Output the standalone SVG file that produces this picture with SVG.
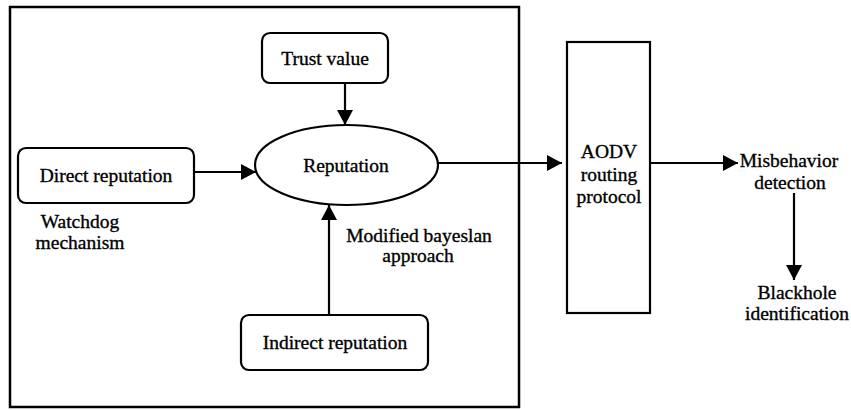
<svg xmlns="http://www.w3.org/2000/svg" width="851" height="410" viewBox="0 0 851 410">
<style>
.t{font-family:'Liberation Serif','Times New Roman',Times,serif;font-size:19.5px;fill:#000;stroke:#000;stroke-width:0.35;text-anchor:middle}
.box{fill:#fff;stroke:#000;stroke-width:2.2}
.frame{fill:none;stroke:#000;stroke-width:2.5}
.edge{fill:none;stroke:#000;stroke-width:2.2}
</style>
<defs>
<marker id="ah" markerUnits="userSpaceOnUse" markerWidth="16" markerHeight="16" viewBox="0 0 16 16" refX="15" refY="8" orient="auto">
<path d="M0,0 L15,8 L0,16 Z" fill="#000"/>
</marker>
</defs>
<rect id="frame" class="frame" x="10" y="7" width="509" height="400"/>
<g id="connectors">
<line class="edge" x1="345" y1="83" x2="345" y2="125" marker-end="url(#ah)"/>
<line class="edge" x1="194" y1="172" x2="256" y2="172" marker-end="url(#ah)"/>
<line class="edge" x1="329" y1="315" x2="329" y2="205" marker-end="url(#ah)"/>
<line class="edge" x1="438" y1="163" x2="562" y2="163" marker-end="url(#ah)"/>
<line class="edge" x1="650" y1="163" x2="738" y2="163" marker-end="url(#ah)"/>
<line class="edge" x1="794" y1="193" x2="794" y2="280" marker-end="url(#ah)"/>
</g>
<g id="trust">
<rect class="box" x="262" y="33" width="126" height="50" rx="8"/>
<text class="t" x="325" y="65">Trust value</text>
</g>
<g id="reputation">
<ellipse class="box" cx="346.5" cy="165" rx="91.5" ry="40"/>
<text class="t" x="346" y="172">Reputation</text>
</g>
<g id="direct">
<rect class="box" x="18" y="148" width="176" height="55" rx="8"/>
<text class="t" x="106" y="182">Direct reputation</text>
</g>
<g id="watchdog">
<text class="t" x="80" y="228">Watchdog</text>
<text class="t" x="80" y="249">mechanism</text>
</g>
<g id="bayesian">
<text class="t" x="419" y="242">Modified bayeslan</text>
<text class="t" x="418" y="262">approach</text>
</g>
<g id="indirect">
<rect class="box" x="241" y="315" width="187" height="55" rx="8"/>
<text class="t" x="335" y="349">Indirect reputation</text>
</g>
<g id="aodv">
<rect class="box" x="567" y="42" width="83" height="271"/>
<text class="t" x="609" y="158">AODV</text>
<text class="t" x="609" y="181">routing</text>
<text class="t" x="609" y="203">protocol</text>
</g>
<g id="misbehavior">
<text class="t" x="789" y="167">Misbehavior</text>
<text class="t" x="790" y="189">detection</text>
</g>
<g id="blackhole">
<text class="t" x="797" y="299">Blackhole</text>
<text class="t" x="797" y="320">identification</text>
</g>
</svg>
